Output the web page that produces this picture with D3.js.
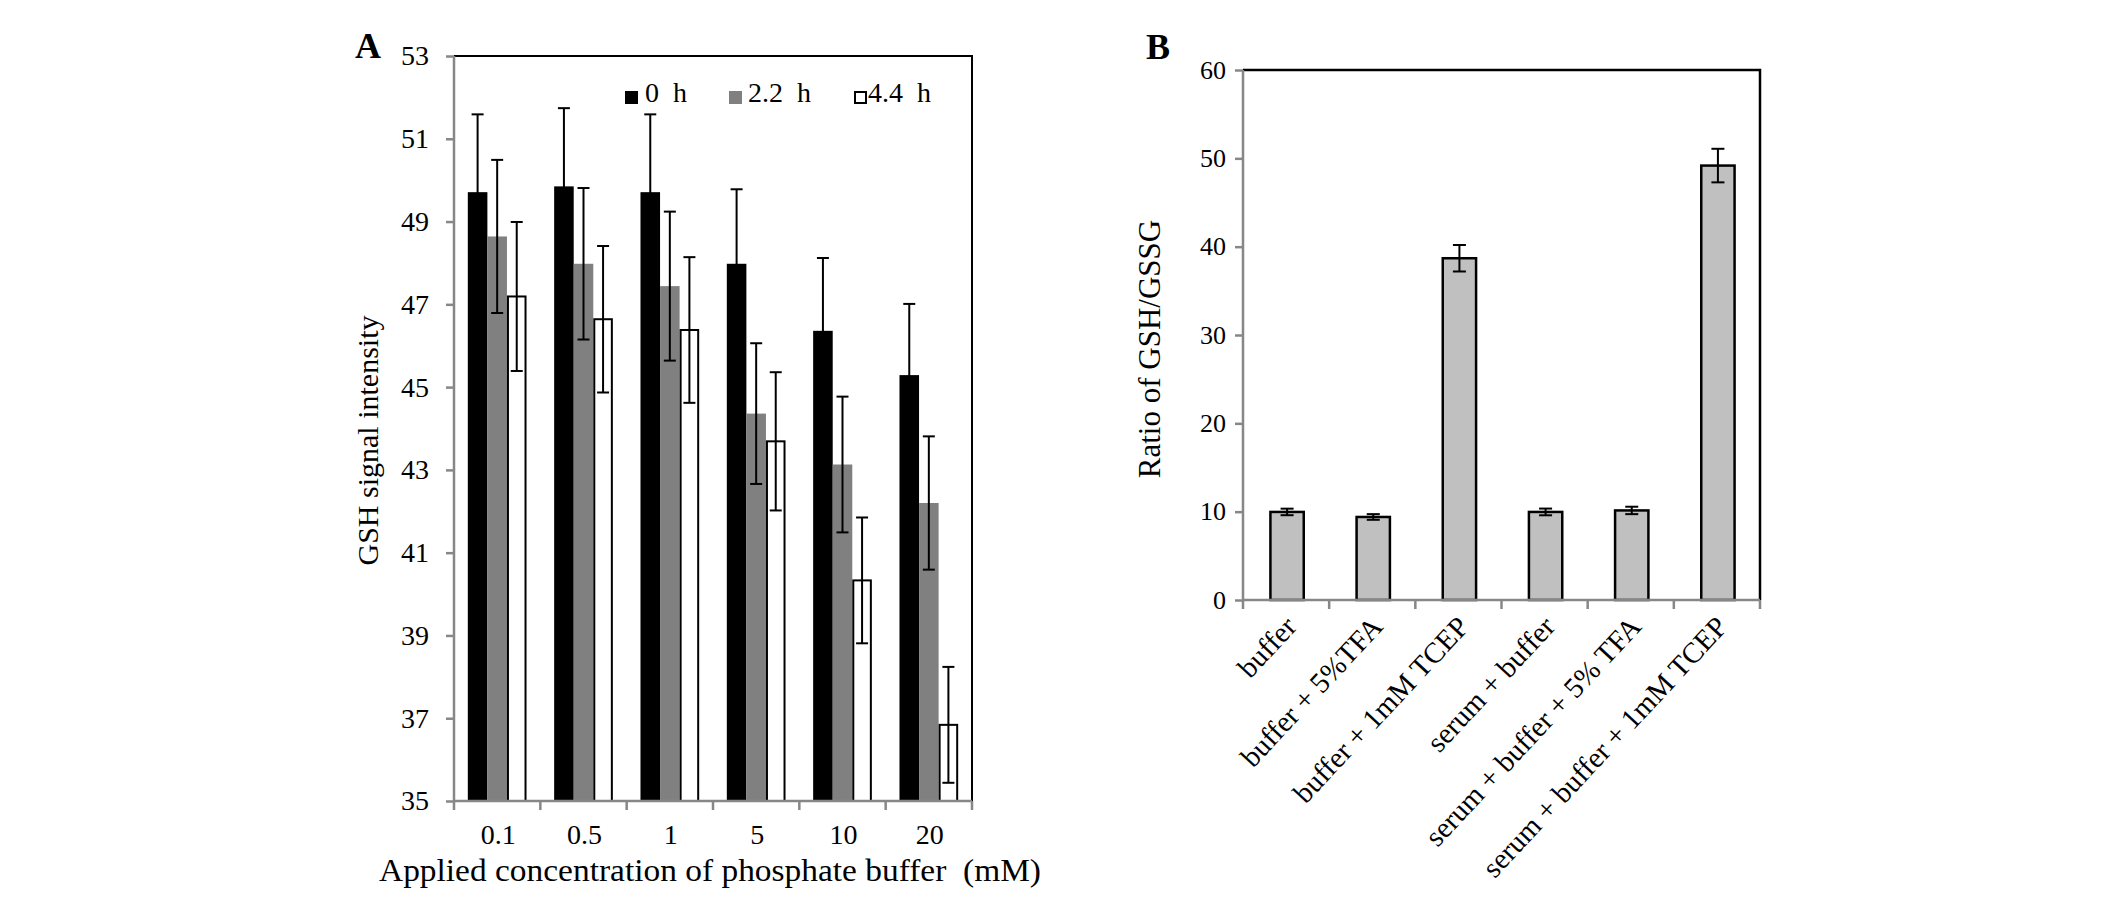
<!DOCTYPE html>
<html><head><meta charset="utf-8">
<script src="https://cdn.jsdelivr.net/npm/d3@7/dist/d3.min.js"></script>
<style>body{margin:0;background:#fff}svg{display:block}text{font-family:"Liberation Serif","Times New Roman",serif;fill:#000}</style>
</head><body>
<svg id="chart" width="2126" height="913"></svg>
<script>
// Panel A data
const concCategories = ["0.1","0.5","1","5","10","20"];
const seriesNames = ["0 h","2.2 h","4.4 h"];
const values0h  = [49.71, 49.85, 49.71, 47.98, 46.36, 45.29];
const values22h = [48.64, 47.98, 47.44, 44.36, 43.13, 42.20];
const values44h = [47.19, 46.64, 46.38, 43.69, 40.33, 36.84];
const err0h  = [1.88, 1.89, 1.88, 1.80, 1.76, 1.72];
const err22h = [1.85, 1.83, 1.80, 1.70, 1.64, 1.61];
const err44h = [1.80, 1.77, 1.76, 1.67, 1.52, 1.40];
const yTicksA = [35,37,39,41,43,45,47,49,51,53];

// Panel B data
const treatments = ["buffer","buffer + 5%TFA","buffer + 1mM TCEP","serum + buffer","serum + buffer + 5% TFA","serum + buffer + 1mM TCEP"];
const ratioValues = [9.97, 9.40, 38.69, 9.97, 10.14, 49.18];
const ratioErrors = [0.37, 0.32, 1.50, 0.38, 0.42, 1.90];
const yTicksB = [0,10,20,30,40,50,60];

const svg = d3.select("#chart");
const axisGray = "#878787";

// ---------------- Panel A ----------------
(function(){
  const L=454, R=972, T=56, B=801;
  const y = d3.scaleLinear().domain([35,53]).range([B,T]);
  const x = d3.scaleBand().domain(concCategories).range([L,R]).paddingInner(0.32).paddingOuter(0.16);
  const xs = d3.scaleBand().domain(seriesNames).range([0,x.bandwidth()]);
  const step = x.step();
  const g = svg.append("g");
  const series = [
    {name:"0 h", vals:values0h, errs:err0h, fill:"#000", stroke:"none"},
    {name:"2.2 h", vals:values22h, errs:err22h, fill:"#808080", stroke:"none"},
    {name:"4.4 h", vals:values44h, errs:err44h, fill:"#fff", stroke:"#000"}
  ];
  series.forEach(s=>{
    const data = concCategories.map((c,i)=>({c, v:s.vals[i], e:s.errs[i]}));
    g.selectAll(null).data(data).enter().append("rect")
      .attr("x", d=>x(d.c)+xs(s.name)+(s.stroke!=="none"?1:0))
      .attr("width", xs.bandwidth()-(s.stroke!=="none"?2:0))
      .attr("y", d=>y(d.v))
      .attr("height", d=>B-y(d.v))
      .attr("fill", s.fill)
      .attr("stroke", s.stroke).attr("stroke-width", 2);
  });
  series.forEach(s=>{
    const data = concCategories.map((c,i)=>({c, v:s.vals[i], e:s.errs[i]}));
    const eg = g.selectAll(null).data(data).enter().append("g")
      .attr("stroke","#000").attr("stroke-width",2);
    const cx = d=>x(d.c)+xs(s.name)+xs.bandwidth()/2;
    eg.append("line").attr("x1",cx).attr("x2",cx).attr("y1",d=>y(d.v+d.e)).attr("y2",d=>y(Math.max(35,d.v-d.e)));
    eg.append("line").attr("x1",d=>cx(d)-6).attr("x2",d=>cx(d)+6).attr("y1",d=>y(d.v+d.e)).attr("y2",d=>y(d.v+d.e));
    eg.append("line").attr("x1",d=>cx(d)-6).attr("x2",d=>cx(d)+6).attr("y1",d=>y(d.v-d.e)).attr("y2",d=>y(d.v-d.e));
  });
  g.append("path").attr("d",`M${L},${T}H${R}V${B}`).attr("fill","none").attr("stroke","#000").attr("stroke-width",2);
  const ya = g.append("g").attr("transform",`translate(${L},0)`)
    .call(d3.axisLeft(y).tickValues(yTicksA).tickSize(8).tickPadding(17).tickFormat(d3.format("d")));
  ya.select(".domain").attr("stroke",axisGray).attr("stroke-width",2.5).attr("d",`M0,${T}V${B}`);
  ya.selectAll(".tick line").attr("stroke",axisGray).attr("stroke-width",2.5);
  ya.selectAll("text").attr("font-size",28).attr("font-family","Liberation Serif").attr("fill","#000");
  const boundaries = d3.range(concCategories.length+1).map(i=>L+i*step);
  const xa = g.append("g");
  xa.append("line").attr("x1",L).attr("x2",R).attr("y1",B).attr("y2",B).attr("stroke",axisGray).attr("stroke-width",2.5);
  xa.selectAll(null).data(boundaries).enter().append("line")
    .attr("x1",d=>d).attr("x2",d=>d).attr("y1",B).attr("y2",B+9).attr("stroke",axisGray).attr("stroke-width",2.5);
  xa.selectAll(null).data(concCategories).enter().append("text")
    .attr("x",d=>x(d)+x.bandwidth()/2+1).attr("y",844).attr("text-anchor","middle").attr("font-size",28).text(d=>d);
  svg.append("text").attr("x",710).attr("y",881).attr("text-anchor","middle").attr("font-size",32)
    .attr("textLength",662).attr("lengthAdjust","spacingAndGlyphs")
    .style("white-space","pre").text("Applied concentration of phosphate buffer\u00a0 (mM)");
  svg.append("text").attr("transform",`translate(378,${(T+B)/2+12}) rotate(-90)`).attr("text-anchor","middle")
    .attr("font-size",30).text("GSH signal intensity");
  svg.append("text").attr("x",355).attr("y",58).attr("font-size",36).attr("font-weight","bold").text("A");
  const legX = [625,729,854], legTX=[645,748,868];
  series.forEach((s,i)=>{
    svg.append("rect").attr("x",legX[i]+(s.stroke!=="none"?1:0)).attr("y",91+(s.stroke!=="none"?1:0))
      .attr("width",s.stroke!=="none"?11:13).attr("height",s.stroke!=="none"?11:13)
      .attr("fill",s.fill).attr("stroke",s.stroke).attr("stroke-width",2);
    svg.append("text").attr("x",legTX[i]).attr("y",102).attr("font-size",28).style("white-space","pre").text(s.name.replace(" ","\u00a0 "));
  });
})();

// ---------------- Panel B ----------------
(function(){
  const L=1243, R=1760, T=70, B=600;
  const y = d3.scaleLinear().domain([0,60]).range([B,T]);
  const x = d3.scaleBand().domain(treatments).range([L,R]).paddingInner(0.59).paddingOuter(0.295);
  const step = x.step();
  const g = svg.append("g");
  g.selectAll(null).data(treatments).enter().append("rect")
    .attr("x",d=>x(d)+2).attr("width",x.bandwidth()-2)
    .attr("y",(d,i)=>y(ratioValues[i])).attr("height",(d,i)=>B-y(ratioValues[i]))
    .attr("fill","#c0c0c0").attr("stroke","#000").attr("stroke-width",2.5);
  const eg = g.selectAll(null).data(treatments).enter().append("g").attr("stroke","#000").attr("stroke-width",2);
  const cx = d=>x(d)+x.bandwidth()/2+1;
  eg.append("line").attr("x1",cx).attr("x2",cx).attr("y1",(d,i)=>y(ratioValues[i]+ratioErrors[i])).attr("y2",(d,i)=>y(ratioValues[i]-ratioErrors[i]));
  eg.append("line").attr("x1",d=>cx(d)-6.5).attr("x2",d=>cx(d)+6.5).attr("y1",(d,i)=>y(ratioValues[i]+ratioErrors[i])).attr("y2",(d,i)=>y(ratioValues[i]+ratioErrors[i]));
  eg.append("line").attr("x1",d=>cx(d)-6.5).attr("x2",d=>cx(d)+6.5).attr("y1",(d,i)=>y(ratioValues[i]-ratioErrors[i])).attr("y2",(d,i)=>y(ratioValues[i]-ratioErrors[i]));
  g.append("path").attr("d",`M${L},${T}H${R}V${B}`).attr("fill","none").attr("stroke","#000").attr("stroke-width",2.5);
  const ya = g.append("g").attr("transform",`translate(${L},0)`)
    .call(d3.axisLeft(y).tickValues(yTicksB).tickSize(8).tickPadding(9).tickFormat(d3.format("d")));
  ya.select(".domain").attr("stroke",axisGray).attr("stroke-width",2.5).attr("d",`M0,${T}V${B}`);
  ya.selectAll(".tick line").attr("stroke",axisGray).attr("stroke-width",2.5);
  ya.selectAll("text").attr("font-size",26).attr("font-family","Liberation Serif").attr("fill","#000");
  const boundaries = d3.range(treatments.length+1).map(i=>L+i*step);
  g.append("line").attr("x1",L).attr("x2",R).attr("y1",B).attr("y2",B).attr("stroke",axisGray).attr("stroke-width",2.5);
  g.selectAll(null).data(boundaries).enter().append("line")
    .attr("x1",d=>d).attr("x2",d=>d).attr("y1",B).attr("y2",B+9).attr("stroke",axisGray).attr("stroke-width",2.5);
  g.selectAll(null).data(treatments).enter().append("text")
    .attr("transform",d=>`translate(${x(d)+x.bandwidth()/2+12},628) rotate(-47)`)
    .attr("text-anchor","end").attr("font-size",29).text(d=>d);
  svg.append("text").attr("transform",`translate(1160,${(T+B)/2+14}) rotate(-90)`).attr("text-anchor","middle")
    .attr("font-size",31).text("Ratio of GSH/GSSG");
  svg.append("text").attr("x",1146).attr("y",59).attr("font-size",36).attr("font-weight","bold").text("B");
})();
</script>
</body></html>
